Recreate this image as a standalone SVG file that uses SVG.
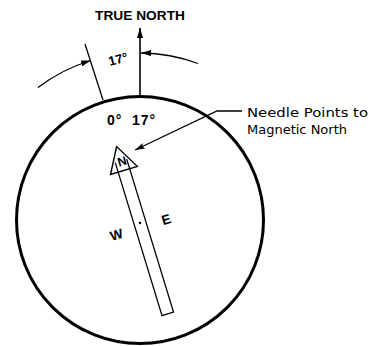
<svg xmlns="http://www.w3.org/2000/svg" width="373" height="346" viewBox="0 0 373 346">
<style>
.ln{fill:none;stroke:#000;stroke-width:1.3}
.bold{font-family:"Liberation Sans",Arial,sans-serif;font-weight:bold;fill:#000}
.lbl{font-family:"DejaVu Sans","Liberation Sans",sans-serif;fill:#000;font-size:12.5px}
</style>
<defs>
<marker id="ah" viewBox="0 0 10 6" refX="10" refY="3" markerWidth="10" markerHeight="6" markerUnits="userSpaceOnUse" orient="auto">
<path d="M0,0 L10,3 L0,6 Z" fill="#000"/>
</marker>
<marker id="ah2" viewBox="0 0 10 6" refX="10" refY="3" markerWidth="11" markerHeight="6" markerUnits="userSpaceOnUse" orient="auto">
<path d="M0,0 L10,3 L0,6 L2,3 Z" fill="#000"/>
</marker>
</defs>
<rect width="373" height="346" fill="#fff"/>
<g id="compass">
<circle cx="140" cy="220" r="123.5" fill="none" stroke="#000" stroke-width="3"/>
<text class="bold" x="107" y="125" font-size="14" letter-spacing="1">0°</text>
<text class="bold" x="132" y="125" font-size="14" letter-spacing="1">17°</text>
</g>
<g id="true-north">
<text class="bold" x="140" y="20" font-size="13" text-anchor="middle" textLength="90" lengthAdjust="spacingAndGlyphs">TRUE NORTH</text>
</g>
<g id="needle" transform="rotate(-17 140 223)">
<path d="M140,143 L126,168 L154,168 Z" fill="#fff" stroke="#000" stroke-width="1.4"/>
<path d="M134,158 L134,318 L146,318 L146,158" fill="none" stroke="#000" stroke-width="1.3"/>
<text class="bold" x="141" y="163" font-size="12.5" text-anchor="middle">N</text>
<circle cx="140" cy="223" r="1.2" fill="#000"/>
<text class="bold" x="114" y="232" font-size="13.5" text-anchor="middle">W</text>
<text class="bold" x="166" y="232" font-size="13.5" text-anchor="middle">E</text>
</g>
<g id="angle-label">
<text class="bold" x="108" y="64" font-size="13" transform="rotate(-15 117 58)">17°</text>
</g>
<g id="needle-label">
<text class="lbl" x="247" y="117" textLength="121" lengthAdjust="spacingAndGlyphs">Needle Points to</text>
<text class="lbl" x="247" y="134" textLength="100" lengthAdjust="spacingAndGlyphs">Magnetic North</text>
</g>
<g id="connectors">
<line x1="140" y1="97" x2="140" y2="28" stroke="#000" stroke-width="1.6" marker-end="url(#ah)"/>
<line x1="85" y1="44" x2="103" y2="100" class="ln"/>
<path d="M38,87.5 A167,167 0 0,1 91,60.5" class="ln" marker-end="url(#ah)"/>
<path d="M198,63.5 A167,167 0 0,0 141,53" class="ln" marker-end="url(#ah)"/>
<polyline points="242,111 217,111 135,150" class="ln" stroke-width="1.1" marker-end="url(#ah2)"/>
</g>
</svg>
